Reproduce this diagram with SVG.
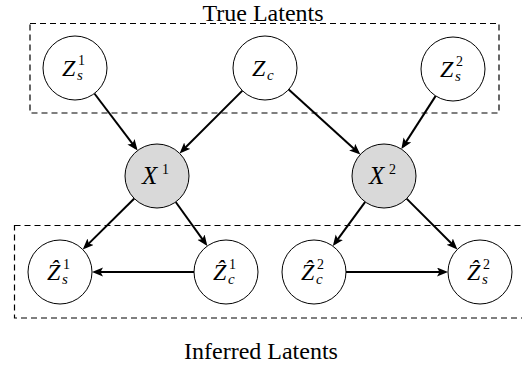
<svg xmlns="http://www.w3.org/2000/svg" width="522" height="368" viewBox="0 0 522 368">
<style>
.n{fill:#fff;stroke:#000;stroke-width:1}
.obs{fill:#d9d9d9;stroke:#000;stroke-width:1}
.box{fill:none;stroke:#000;stroke-width:1.2;stroke-dasharray:6 4}
.e{stroke:#000;stroke-width:2;fill:none;marker-end:url(#ah)}
.m{font-family:"Liberation Serif","Times New Roman",serif;font-style:italic;font-size:24px;fill:#000}
.x{font-size:25px}
.sup{font-family:"Liberation Serif","Times New Roman",serif;font-size:14px;fill:#000}
.sub{font-family:"Liberation Serif","Times New Roman",serif;font-style:italic;font-size:15px;fill:#000}
.t{font-family:"Liberation Serif","Times New Roman",serif;font-size:24px;fill:#000;text-anchor:middle}
</style>
<defs>
<marker id="ah" markerUnits="userSpaceOnUse" markerWidth="12" markerHeight="10" refX="8" refY="4.5" orient="auto">
<path d="M0,0 L11,4.5 L0,9 L2.5,4.5 z" fill="#000"/>
</marker>
</defs>
<g id="boxes">
<rect class="box" x="30" y="23.5" width="469" height="89.5"/>
<rect class="box" x="14.5" y="225.5" width="520" height="92.5"/>
<text class="t" x="263" y="21">True Latents</text>
<text class="t" x="261" y="359">Inferred Latents</text>
</g>
<g id="edges">
<line class="e" x1="94.4" y1="93.5" x2="135.8" y2="148.1"/>
<line class="e" x1="242.4" y1="90.6" x2="181.7" y2="151.3"/>
<line class="e" x1="288.7" y1="89.5" x2="358.1" y2="152.5"/>
<line class="e" x1="435.7" y1="95.9" x2="403" y2="146.6"/>
<line class="e" x1="134.3" y1="198.5" x2="84.9" y2="247.4"/>
<line class="e" x1="175.7" y1="202" x2="205.6" y2="243.6"/>
<line class="e" x1="194" y1="272" x2="95" y2="272"/>
<line class="e" x1="365.2" y1="201.9" x2="334.6" y2="243.7"/>
<line class="e" x1="406.6" y1="198.6" x2="455.3" y2="247.3"/>
<line class="e" x1="346" y1="272" x2="445" y2="272"/>
</g>
<g id="Zs1">
<circle class="n" cx="75" cy="68" r="32"/>
<text class="m" x="62" y="76">Z</text><text class="sup" x="78" y="65">1</text><text class="sub" x="77" y="80">s</text>
</g>
<g id="Zc">
<circle class="n" cx="265" cy="68" r="32"/>
<text class="m" x="252" y="76">Z</text><text class="sub" x="267" y="80">c</text>
</g>
<g id="Zs2">
<circle class="n" cx="453" cy="69" r="32"/>
<text class="m" x="440" y="77">Z</text><text class="sup" x="456" y="66">2</text><text class="sub" x="455" y="81">s</text>
</g>
<g id="X1">
<circle class="obs" cx="157" cy="176" r="32"/>
<text class="m x" x="142" y="184">X</text><text class="sup" x="162" y="174">1</text>
</g>
<g id="X2">
<circle class="obs" cx="384" cy="176" r="32"/>
<text class="m x" x="369" y="184">X</text><text class="sup" x="389" y="174">2</text>
</g>
<g id="Zhs1">
<circle class="n" cx="60" cy="272" r="32"/>
<text class="m" x="47" y="280">Ẑ</text><text class="sup" x="63" y="269">1</text><text class="sub" x="62" y="284">s</text>
</g>
<g id="Zhc1">
<circle class="n" cx="226" cy="272" r="32"/>
<text class="m" x="213" y="280">Ẑ</text><text class="sup" x="229" y="269">1</text><text class="sub" x="228" y="284">c</text>
</g>
<g id="Zhc2">
<circle class="n" cx="314" cy="272" r="32"/>
<text class="m" x="301" y="280">Ẑ</text><text class="sup" x="317" y="269">2</text><text class="sub" x="316" y="284">c</text>
</g>
<g id="Zhs2">
<circle class="n" cx="480" cy="272" r="32"/>
<text class="m" x="467" y="280">Ẑ</text><text class="sup" x="483" y="269">2</text><text class="sub" x="482" y="284">s</text>
</g>
</svg>
